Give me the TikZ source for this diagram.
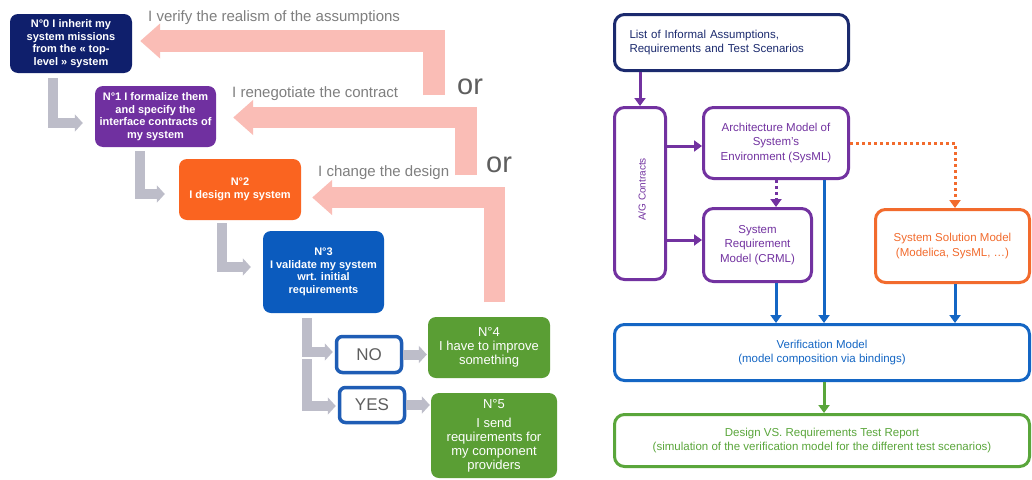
\documentclass[tikz,border=0pt]{standalone}
\usepackage{fontspec}
\setmainfont{Liberation Sans}
\usetikzlibrary{arrows.meta,calc}
\definecolor{cNavy}{HTML}{0F1F6C}
\definecolor{cPurple}{HTML}{7030A0}
\definecolor{cOrange}{HTML}{FA6420}
\definecolor{cBlue}{HTML}{0B5BBE}
\definecolor{cGreen}{HTML}{5A9E34}
\definecolor{cPink}{HTML}{FABDB6}
\definecolor{cGrey}{HTML}{BDBDC9}
\definecolor{cLabel}{HTML}{7F7F7F}
\definecolor{cOr}{HTML}{5E5E5E}
\definecolor{cBoxBlue}{HTML}{1F5DB5}
\definecolor{rNavy}{HTML}{1B2A6E}
\definecolor{rPurple}{HTML}{7232A0}
\definecolor{rBlue}{HTML}{1466C4}
\definecolor{rOrange}{HTML}{F26B2D}
\definecolor{rGreen}{HTML}{5AA63B}
\begin{document}
\begin{tikzpicture}[x=1pt,y=-1pt,
  lbox/.style={rounded corners=8pt, inner sep=1pt, align=center, text=white, font=\fontsize{11}{12.5}\selectfont\bfseries},
  gbox/.style={lbox, fill=cGreen, font=\fontsize{13}{14}\selectfont},
  ansbox/.style={draw=cBoxBlue, line width=3.5pt, fill=white, rounded corners=6pt, text=cOr, font=\fontsize{17}{17}\selectfont},
  garrow/.style={draw=cGrey, line width=10pt, -{Triangle[length=8pt,width=17pt]}},
  parrow/.style={draw=cPink, line width=21.5pt, line join=miter, -{Triangle[length=20pt,width=34pt]}},
  lab/.style={text=cLabel, font=\fontsize{15}{15}\selectfont, inner sep=0pt},
  orlab/.style={text=cOr, font=\fontsize{29}{29}\selectfont, inner sep=0pt},
  rbox/.style={draw, line width=3pt, rounded corners=10pt, fill=white, align=center, font=\fontsize{11.5}{14.5}\selectfont, inner sep=2pt},
  rarrow/.style={line width=3pt, -{Triangle[length=8pt,width=11pt]}},
  rdot/.style={rarrow, dash pattern=on 3pt off 3pt},
]
\fill[white] (0,0) rectangle (1032,479);
\useasboundingbox (0,0) rectangle (1032,479);

% ---------- left: process steps ----------
\node[lbox, fill=cNavy, minimum width=122pt, minimum height=59pt] (n0) at (71,43.5) {N°0 I inherit my\\system missions\\from the « top-\\level » system};
\node[lbox, fill=cPurple, minimum width=121pt, minimum height=61pt] (n1) at (155.5,116.5) {N°1 I formalize them\\and specify the\\interface contracts of\\my system};
\node[lbox, fill=cOrange, minimum width=122pt, minimum height=61pt] (n2) at (240,189.5) {N°2\\I design my system};
\node[lbox, fill=cBlue, minimum width=121pt, minimum height=82pt] (n3) at (323.5,272) {N°3\\I validate my system\\wrt. initial\\requirements};
\node[ansbox, minimum width=65pt, minimum height=36pt] (no) at (369,354.5) {NO};
\node[ansbox, minimum width=65pt, minimum height=35pt] (yes) at (372,405) {YES};
\node[gbox, minimum width=122pt, minimum height=61pt] (n4) at (489,347.5) {N°4\\I have to improve\\something};
\node[gbox, minimum width=126pt, minimum height=85pt] (n5) at (494,435.5) {N°5\\[5pt]I send\\requirements for\\my component\\providers};

% pink feedback arrows
\coordinate (p1) at (434,95);
\coordinate (p2) at (466,175);
\coordinate (p3) at (494.5,302);
\draw[parrow] (p1) |- ($(n0.east)+(8,-2.5)$);
\draw[parrow] (p2) |- ($(n1.east)+(17,1)$);
\draw[parrow] (p3) |- ($(n2.east)+(11,8)$);

% grey step arrows
\draw[garrow] ($(n0.south)+(-18,5)$) |- ($(n1.west)+(-12,6.5)$);
\draw[garrow] ($(n1.south)+(-15.5,4)$) |- ($(n2.west)+(-14,4.5)$);
\draw[garrow] ($(n2.south)+(-18,3)$) |- ($(n3.west)+(-12,-5)$);
\draw[garrow] ($(n3.south)+(-17,5)$) |- ($(no.west)+(-2,-2.5)$);
\draw[garrow] ($(n3.south)+(-17,46)$) |- ($(yes.west)+(-2,1)$);
\draw[garrow, shorten >=1pt] (no.east) -- (no.east -| n4.west);
\draw[garrow, shorten >=1pt] (yes.east) -- (yes.east -| n5.west);

% labels
\node[lab, anchor=base west] (t1) at (148,21.5) {I verify the realism of the assumptions};
\node[lab, anchor=base west] (t2) at (232,97) {I renegotiate the contract};
\node[lab, anchor=base west] (t3) at (318,176) {I change the design};
\node[orlab, anchor=base west] (or1) at (457,94) {or};
\node[orlab, anchor=base west] (or2) at (486,172) {or};

% ---------- right: model flow ----------
\node[rbox, draw=rNavy, text=rNavy, minimum width=234pt, minimum height=56pt, text width=204pt, align=left] (list) at (731.5,42.5) {List of Informal Assumptions,\\Requirements and Test Scenarios};
\node[rbox, draw=rPurple, minimum width=51pt, minimum height=172pt] (ag) at (640,193.5) {};
\node[rotate=90, text=rPurple, font=\fontsize{10}{10}\selectfont, inner sep=0pt] (agt) at ($(ag.center)+(2,-4)$) {A/G Contracts};
\node[rbox, draw=rPurple, text=rPurple, minimum width=145pt, minimum height=71pt] (arch) at (776,143) {Architecture Model of\\System’s\\Environment (SysML)};
\node[rbox, draw=rPurple, text=rPurple, minimum width=108pt, minimum height=73pt] (sreq) at (757.5,245) {System\\Requirement\\Model (CRML)};
\node[rbox, draw=rOrange, text=rOrange, minimum width=154pt, minimum height=73pt] (sol) at (952.5,246) {System Solution Model\\(Modelica, SysML, …)};
\node[rbox, draw=rBlue, text=rBlue, minimum width=415pt, minimum height=56pt] (ver) at (822,352.5) {Verification Model\\(model composition via bindings)};
\node[rbox, draw=rGreen, text=rGreen, minimum width=415pt, minimum height=52pt] (des) at (822,440.5) {Design VS. Requirements Test Report\\(simulation of the verification model for the different test scenarios)};

\coordinate (aw) at ($(arch.west)+(0,3)$);
\coordinate (sw) at ($(sreq.west)+(0,-5)$);
\coordinate (sn) at ($(sol.north)+(2.5,0)$);
\coordinate (ab) at ($(arch.south)+(48,0)$);
\coordinate (ss) at ($(sol.south)+(2.5,0)$);
\coordinate (vs) at ($(ver.south)+(2,0)$);
\draw[rarrow, rPurple] (list.south -| ag.north) -- (ag.north);
\draw[rarrow, rPurple] (aw -| ag.east) -- (aw);
\draw[rarrow, rPurple] (sw -| ag.east) -- (sw);
\draw[rdot, rPurple] (arch.south) -- (arch.south |- sreq.north);
\draw[rdot, rOrange] (arch.east) -| (sn);
\draw[rarrow, rBlue] (ab) -- (ab |- ver.north);
\draw[rarrow, rBlue] (sreq.south -| arch.south) -- (arch.south |- ver.north);
\draw[rarrow, rBlue] (ss) -- (ss |- ver.north);
\draw[rarrow, rGreen] (vs) -- (vs |- des.north);
\end{tikzpicture}
\end{document}
